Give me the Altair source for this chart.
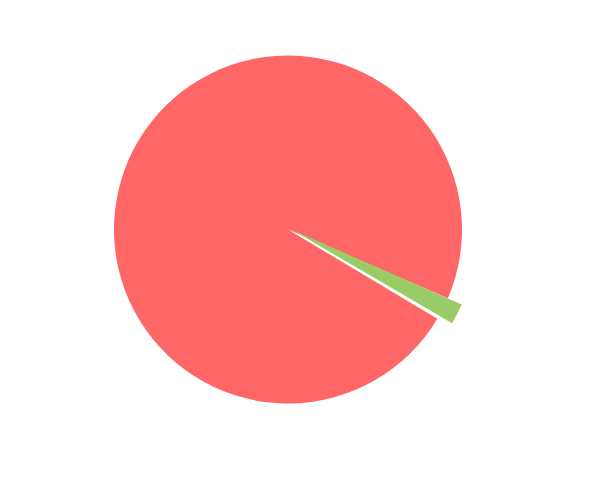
import math
import altair as alt
import pandas as pd

categories = ["Main", "Other"]
values = [98.2, 1.8]
order = [0, 1]
colors = ["#ff6666", "#99cc66"]

df = pd.DataFrame({"category": categories, "value": values, "idx": order})

start = math.radians(120.3)
theta = alt.Theta("value:Q", stack=True,
                  scale=alt.Scale(range=[start, start + 2 * math.pi]))
color = alt.Color("category:N", scale=alt.Scale(domain=categories, range=colors), legend=None)

base = alt.Chart(df)

main_layer = base.mark_arc(radius=174, padAngle=0.02).encode(
    theta=theta,
    color=color,
    order=alt.Order("idx:Q"),
    opacity=alt.condition(alt.datum.category == "Other", alt.value(0), alt.value(1)),
)

other_layer = base.mark_arc(radius=186, xOffset=3.5, yOffset=0).encode(
    theta=theta,
    color=color,
    order=alt.Order("idx:Q"),
    opacity=alt.condition(alt.datum.category == "Other", alt.value(1), alt.value(0)),
)

chart = alt.layer(main_layer, other_layer).properties(
    width=560, height=443, padding=0, autosize="none"
).configure_view(stroke=None)

chart.save("out.html", embed_options={"renderer": "svg", "actions": False})
